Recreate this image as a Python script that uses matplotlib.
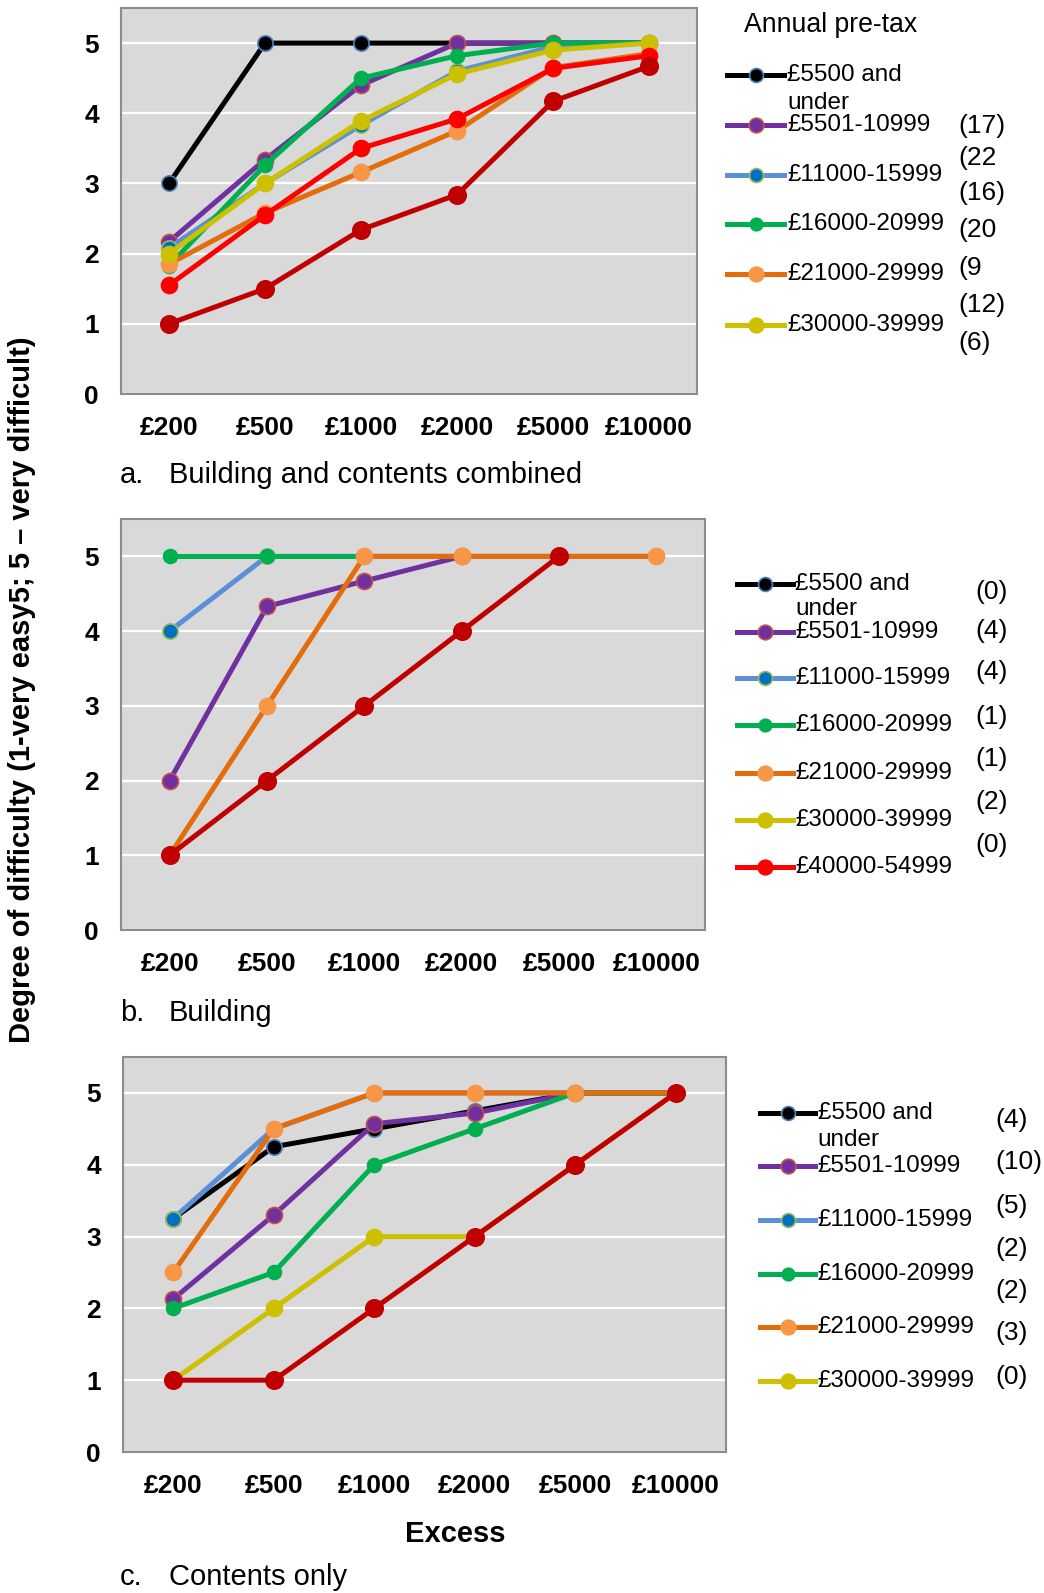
import numpy as np
import matplotlib
matplotlib.use("Agg")
import matplotlib.pyplot as plt
from matplotlib.lines import Line2D

plt.rcParams['font.family'] = ['Liberation Sans', 'DejaVu Sans']

nan = np.nan
excess = ["£200", "£500", "£1000", "£2000", "£5000", "£10000"]
groups = ["£5500 and\nunder", "£5501-10999", "£11000-15999", "£16000-20999",
          "£21000-29999", "£30000-39999", "£40000-54999", "£55000 and over"]

# Panel a: Building and contents combined
a_vals = [
    [3.0, 5.0, 5.0, 5.0, 5.0, 5.0],
    [2.17, 3.34, 4.40, 5.0, 5.0, 5.0],
    [2.08, 3.0, 3.83, 4.60, 4.95, 5.0],
    [1.83, 3.26, 4.50, 4.82, 5.0, 5.0],
    [1.85, 2.58, 3.16, 3.75, 4.65, 4.85],
    [2.0, 3.0, 3.89, 4.56, 4.90, 5.0],
    [1.55, 2.55, 3.50, 3.92, 4.64, 4.82],
    [1.0, 1.50, 2.34, 2.84, 4.17, 4.67],
]
a_counts = ["(17)", "(22", "(16)", "(20", "(9", "(12)", "(6)"]

# Panel b: Building
b_vals = [
    [nan, nan, nan, nan, nan, nan],
    [2.0, 4.33, 4.67, 5.0, nan, nan],
    [4.0, 5.0, 5.0, 5.0, 5.0, 5.0],
    [5.0, 5.0, 5.0, nan, nan, nan],
    [1.0, 3.0, 5.0, 5.0, 5.0, 5.0],
    [nan, nan, nan, nan, nan, nan],
    [nan, nan, nan, nan, nan, nan],
    [1.0, 2.0, 3.0, 4.0, 5.0, nan],
]
b_counts = ["(0)", "(4)", "(4)", "(1)", "(1)", "(2)", "(0)"]

# Panel c: Contents only
c_vals = [
    [3.25, 4.25, 4.50, 4.75, 5.0, 5.0],
    [2.13, 3.30, 4.57, 4.72, 5.0, 5.0],
    [3.25, 4.50, 5.0, 5.0, 5.0, 5.0],
    [2.0, 2.50, 4.0, 4.50, 5.0, 5.0],
    [2.50, 4.50, 5.0, 5.0, 5.0, 5.0],
    [1.0, 2.0, 3.0, 3.0, 4.0, 5.0],
    [nan, nan, nan, nan, nan, nan],
    [1.0, 1.0, 2.0, 3.0, 4.0, 5.0],
]
c_counts = ["(4)", "(10)", "(5)", "(2)", "(2)", "(3)", "(0)"]

styles = [
    dict(color="#000000", mfc="#000000", mec="#4F81BD"),
    dict(color="#7030A0", mfc="#7030A0", mec="#C0504D"),
    dict(color="#5B8FD6", mfc="#0070C0", mec="#9BBB59"),
    dict(color="#00B050", mfc="#00B050", mec="#00B050"),
    dict(color="#E46C0A", mfc="#F79646", mec="#F79646"),
    dict(color="#CCC000", mfc="#CCC000", mec="#CCC000"),
    dict(color="#FF0000", mfc="#FF0000", mec="#FF0000"),
    dict(color="#C00000", mfc="#C00000", mec="#C00000"),
]
msizes = [11, 11.5, 11, 10, 11.5, 11.5, 11.5, 12.5]

LEG_FS = 17.5
CNT_FS = 19
W, H = 1044, 1593
fig = plt.figure(figsize=(W / 100, H / 100), dpi=100)

def fx(x):
    return x / W

def fy(y):
    return 1 - y / H

panels = [
    (a_vals, (121, 697, 8, 394)),
    (b_vals, (121, 705, 519, 930)),
    (c_vals, (123, 726, 1057, 1452)),
]

axes = []
for vals, (l, r, t, b) in panels:
    ax = fig.add_axes([fx(l), fy(b), (r - l) / W, (b - t) / H])
    ax.set_facecolor("#D9D9D9")
    x = np.arange(len(excess))
    for i, v in enumerate(vals):
        st = styles[i]
        ax.plot(x, v, color=st["color"], lw=3.6, marker="o", ms=msizes[i],
                mfc=st["mfc"], mec=st["mec"], mew=1.2, zorder=3 + i * 0.1)
    ax.set_xlim(-0.5, 5.5)
    ax.set_ylim(0, 5.5)
    ax.set_yticks(range(0, 6))
    ax.set_xticks(x)
    ax.set_xticklabels(excess)
    ax.grid(axis="y", color="white", lw=1.6, zorder=1)
    ax.set_axisbelow(True)
    ax.tick_params(length=0, labelsize=19)
    ax.tick_params(axis="x", pad=16)
    ax.tick_params(axis="y", pad=16)
    for lab in ax.get_xticklabels() + ax.get_yticklabels():
        lab.set_fontweight("bold")
    for s_ in ax.spines.values():
        s_.set_color("#8C8C8C")
        s_.set_linewidth(1.5)
    axes.append(ax)

# Legends (manual)
def draw_legend(x0, x1, xt, ys, y_under, n, counts, xc, ycs):
    for i in range(n):
        st = styles[i]
        y = ys[i]
        fig.add_artist(Line2D([fx(x0), fx(x1)], [fy(y), fy(y)], transform=fig.transFigure,
                              color=st["color"], lw=3.6))
        fig.add_artist(Line2D([fx((x0 + x1) / 2)], [fy(y)], transform=fig.transFigure,
                              marker="o", ms=msizes[i] - 1, mfc=st["mfc"], mec=st["mec"],
                              mew=1.2, ls="none"))
        label = groups[i].split("\n")[0]
        fig.text(fx(xt), fy(y), label, fontsize=LEG_FS, va="center", ha="left")
        if i == 0:
            fig.text(fx(xt), fy(y_under), "under", fontsize=LEG_FS, va="center", ha="left")
    for c, yc in zip(counts, ycs):
        fig.text(fx(xc), fy(yc), c, fontsize=CNT_FS, va="center", ha="left")

k = 1028 / 1044
def s(v):
    return v / k

fig.text(fx(s(733)), fy(s(25)), "Annual pre-tax", fontsize=19.2, va="center", ha="left")
draw_legend(s(716), s(772), s(775), [s(v) for v in [74, 123, 172, 221, 270, 320]], s(101), 6,
            a_counts, s(944), [s(v) for v in [124, 156, 190, 226, 264, 300, 338]])
draw_legend(s(726), s(781), s(783), [s(v) for v in [575, 622, 668, 714, 761, 807, 854]], s(600), 7,
            b_counts, s(960), [s(v) for v in [583, 621, 662, 706, 747, 790, 832]])
draw_legend(s(748), s(803), s(805), [s(v) for v in [1096, 1148, 1201, 1254, 1307, 1360]], s(1123), 6,
            c_counts, s(980), [s(v) for v in [1103, 1144, 1188, 1230, 1271, 1313, 1356]])

# Captions
for lbl, txt, y in [("a.", "Building and contents combined", 468),
                    ("b.", "Building", 997),
                    ("c.", "Contents only", 1553)]:
    fig.text(fx(s(118)), fy(s(y)), lbl, fontsize=21, va="center", ha="left")
    fig.text(fx(s(166)), fy(s(y)), txt, fontsize=21, va="center", ha="left")

fig.text(fx(s(22)), fy(s(679)), "Degree of difficulty (1-very easy5; 5 – very difficult)",
         fontsize=21, fontweight="bold", rotation=90, va="center", ha="center")
fig.text(fx(s(448)), fy(s(1510)), "Excess", fontsize=21, fontweight="bold",
         va="center", ha="center")

fig.savefig("out.png", dpi=100)
